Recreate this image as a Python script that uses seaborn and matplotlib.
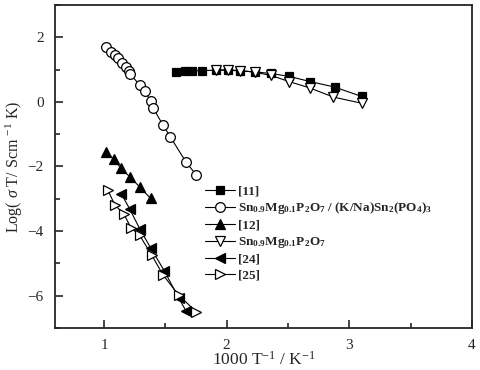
import matplotlib
matplotlib.use("Agg")
import matplotlib.pyplot as plt
import seaborn as sns
import pandas as pd
from matplotlib.ticker import MultipleLocator

# ---- data ----
x_11 = [1.59, 1.66, 1.72, 1.80, 1.91, 2.01, 2.11, 2.23, 2.36, 2.51, 2.68, 2.88, 3.10]
y_11 = [0.94, 0.95, 0.96, 0.97, 0.98, 0.98, 0.96, 0.93, 0.88, 0.79, 0.63, 0.46, 0.17]

x_comp = [1.02, 1.06, 1.09, 1.11, 1.15, 1.18, 1.20, 1.21, 1.29, 1.33, 1.38, 1.40, 1.48, 1.54, 1.67, 1.75]
y_comp = [1.71, 1.55, 1.46, 1.37, 1.21, 1.09, 0.96, 0.87, 0.53, 0.35, 0.03, -0.19, -0.71, -1.08, -1.87, -2.25]

x_12 = [1.02, 1.08, 1.14, 1.21, 1.29, 1.38]
y_12 = [-1.54, -1.78, -2.06, -2.32, -2.63, -2.99]

x_sn = [1.91, 2.01, 2.11, 2.23, 2.36, 2.51, 2.68, 2.87, 3.10]
y_sn = [0.99, 0.99, 0.97, 0.92, 0.82, 0.63, 0.43, 0.15, -0.04]

x_24 = [1.14, 1.21, 1.29, 1.38, 1.49, 1.61, 1.67]
y_24 = [-2.84, -3.32, -3.92, -4.52, -5.22, -6.08, -6.48]

x_25 = [1.03, 1.09, 1.16, 1.22, 1.29, 1.39, 1.48, 1.61, 1.75]
y_25 = [-2.73, -3.20, -3.46, -3.90, -4.13, -4.75, -5.35, -5.99, -6.49]

labels = [
    "[11]",
    r"$\mathbf{Sn_{0.9}Mg_{0.1}P_{2}O_{7}\ /\ (K/Na)Sn_{2}(PO_{4})_{3}}$",
    "[12]",
    r"$\mathbf{Sn_{0.9}Mg_{0.1}P_{2}O_{7}}$",
    "[24]",
    "[25]",
]

sns.set_style("ticks")
plt.rcParams["font.family"] = ["Liberation Serif", "DejaVu Serif"]
plt.rcParams["mathtext.fontset"] = "custom"
plt.rcParams["mathtext.rm"] = "Liberation Serif"
plt.rcParams["mathtext.it"] = "Liberation Serif:italic"
plt.rcParams["mathtext.bf"] = "Liberation Serif:bold"

fig = plt.figure(figsize=(4.8, 3.7), dpi=100)
ax = fig.add_axes([0.1146, 0.1135, 0.8684, 0.8730])

series = [
    (x_11, y_11, "s", "black", 6.0),
    (x_comp, y_comp, "o", "white", 7.0),
    (x_12, y_12, "^", "black", 7.0),
    (x_sn, y_sn, "v", "white", 7.5),
    (x_24, y_24, "<", "black", 7.0),
    (x_25, y_25, ">", "white", 7.0),
]

for (xs, ys, m, fc, ms), lab in zip(series, labels):
    df = pd.DataFrame({"x": xs, "y": ys})
    sns.lineplot(data=df, x="x", y="y", ax=ax, sort=False, color="black",
                 linewidth=0.8, marker=m, markersize=ms, markerfacecolor=fc,
                 markeredgecolor="black", markeredgewidth=0.9, label=lab)

ax.set_xlim(0.6, 4.0)
ax.set_ylim(-7, 3)
ax.xaxis.set_major_locator(MultipleLocator(1))
ax.xaxis.set_minor_locator(MultipleLocator(0.5))
ax.yaxis.set_major_locator(MultipleLocator(2))
ax.yaxis.set_minor_locator(MultipleLocator(1))
ax.tick_params(which="both", direction="in", width=1.2, labelsize=11)
ax.tick_params(which="major", length=6)
ax.tick_params(which="minor", length=3.5)
ax.tick_params(axis="x", pad=8)
ax.tick_params(axis="y", pad=8)
for s in ax.spines.values():
    s.set_linewidth(1.3)
    s.set_visible(True)

ax.set_xlabel(r"1000 T$^{-1}$ / K$^{-1}$", fontsize=12.5, labelpad=-1)
ax.set_ylabel(r"Log( $\sigma$ T/ Scm $^{-1}$ K)", fontsize=11.5, labelpad=2)

leg = ax.legend(loc="upper left", bbox_to_anchor=(0.36, 0.443), frameon=False,
                prop={"family": "Liberation Serif", "weight": "bold", "size": 9.5},
                handlelength=2.27, handletextpad=0.2, labelspacing=0.25,
                borderaxespad=0, borderpad=0)

fig.savefig("out.png", dpi=100)
